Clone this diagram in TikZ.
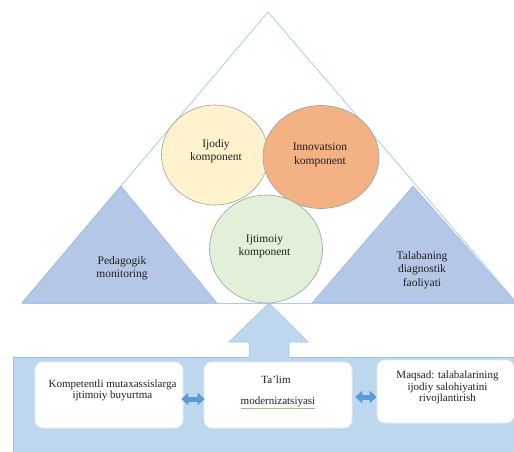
\documentclass[tikz,border=0pt]{standalone}
\usepackage{fontspec}
\setmainfont{Liberation Serif}
\usetikzlibrary{arrows.meta,shapes.geometric}
\definecolor{tri}{HTML}{A9CCEA}
\definecolor{bluetri}{HTML}{B4C7E7}
\definecolor{bluetriline}{HTML}{9FB8E0}
\definecolor{yel}{HTML}{FFF2CC}
\definecolor{ora}{HTML}{F4B183}
\definecolor{grn}{HTML}{E2F0D9}
\definecolor{circline}{HTML}{8FA8A8}
\definecolor{panel}{HTML}{BDD7EE}
\definecolor{panelline}{HTML}{9DC3E6}
\definecolor{dblarrow}{HTML}{5B9BD5}
\definecolor{txt}{HTML}{1F1F1F}
\definecolor{squig}{HTML}{8CC97A}
\begin{document}
\begin{tikzpicture}[x=1pt,y=-1pt,
  comp/.style={ellipse, draw=circline, line width=0.6pt},
  lbl/.style={text=txt, font=\fontsize{11.5}{13}\selectfont, align=center, inner sep=0pt},
  boxlbl/.style={text=txt, font=\fontsize{11}{11.5}\selectfont, align=center, inner sep=0pt},
  whitebox/.style={draw=white!92!black, fill=white, rounded corners=8pt, line width=0.6pt},
  dbl/.style={draw=dblarrow, line width=5pt, {Triangle[length=7pt,width=12pt]}-{Triangle[length=7pt,width=12pt]}}
]
\useasboundingbox (0,0) rectangle (514,452);
% big triangle
\draw[tri, line width=0.8pt] (22,303) -- (268,12) -- (517,303);
% side triangles
\filldraw[fill=bluetri, draw=bluetriline, line width=0.6pt] (22,303) -- (121,186) -- (217,303) -- cycle;
\filldraw[fill=bluetri, draw=bluetriline, line width=0.6pt] (312,303) -- (413,186) -- (516,303) -- cycle;
\draw[tri, line width=0.8pt] (22,303) -- (516,303);
\node[lbl] (ped) at (122,268.5) {Pedagogik\\monitoring};
\node[lbl, font=\fontsize{11.5}{13.5}\selectfont] (tal) at (422,270) {Talabaning\\diagnostik\\faoliyati};
% circles
\node[comp, fill=yel, minimum width=107pt, minimum height=100pt] (ijod) at (215,155) {};
\node[comp, fill=ora, minimum width=116pt, minimum height=103pt] (inno) at (321,157) {};
\node[comp, fill=grn, minimum width=113pt, minimum height=108pt] (ijti) at (266,249) {};
\node[lbl] (ijodt) at (216,151.5) {Ijodiy\\komponent};
\node[lbl, font=\fontsize{11.5}{14}\selectfont] (innot) at (320,154.5) {Innovatsion\\komponent};
\node[lbl] (ijtit) at (264.5,246) {Ijtimoiy\\komponent};
% bottom panel
\filldraw[fill=panel, draw=panelline, line width=0.6pt] (13,357) rectangle (520,460);
\fill[panel] (249,358) -- (249,342) -- (229,342) -- (269,303) -- (308,342) -- (289,342) -- (289,358) -- cycle;
\draw[panelline, line width=0.5pt] (249,357) -- (249,342) -- (229,342) -- (269,303) -- (308,342) -- (289,342) -- (289,357);
% boxes
\node[whitebox, minimum width=148pt, minimum height=66pt] (lbox) at (109,395) {};
\node[whitebox, minimum width=148pt, minimum height=66pt] (mbox) at (278,395) {};
\node[whitebox, minimum width=137pt, minimum height=63pt] (rbox) at (445.5,391.5) {};
\node[boxlbl] (lboxt) at (112.5,390.5) {Kompetentli mutaxassislarga\\ijtimoiy buyurtma};
\node[boxlbl] (mboxt1) at (276,380) {Ta’lim};
\node[boxlbl] (mboxt2) at (278,402) {modernizatsiyasi};
\draw[squig, line width=0.7pt] ([yshift=-1pt]mboxt2.south west) -- ([yshift=-1pt]mboxt2.south east);
\node[boxlbl] (rboxt) at (447.5,387.5) {Maqsad: talabalarining\\ijodiy salohiyatini\\rivojlantirish};
% double arrows
\draw[dbl, shorten <=-2pt, shorten >=-1pt] ([yshift=-4pt]lbox.east) -- ([yshift=-4pt]mbox.west);
\draw[dbl, shorten <=3pt, shorten >=0pt] ([yshift=-2pt]mbox.east) -- ([yshift=-5.5pt]rbox.west);
\end{tikzpicture}
\end{document}
